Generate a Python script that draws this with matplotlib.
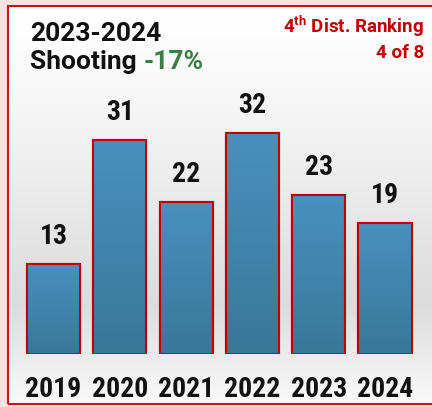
import numpy as np
import matplotlib
matplotlib.use("Agg")
import matplotlib.pyplot as plt
from matplotlib.colors import LinearSegmentedColormap
from matplotlib.patches import Rectangle
import matplotlib.transforms as mtransforms

# data
years = ["2019", "2020", "2021", "2022", "2023", "2024"]
counts = [13, 31, 22, 32, 23, 19]
title_line1 = "2023-2024"
title_line2 = "Shooting"
change_text = "-17%"
rank_line1 = "Dist. Ranking"
rank_line2 = "4 of 8"

W, H = 432, 407
fig = plt.figure(figsize=(W / 100, H / 100), dpi=100)
fig.patch.set_facecolor("#fde2e3")

narrow = ["Roboto Condensed", "Archivo Narrow", "Roboto", "DejaVu Sans"]
roboto = ["Roboto", "DejaVu Sans"]

# inner panel with gradient background
px_l, px_t, px_b = 8, 6, 404
panel = fig.add_axes([px_l / W, (H - px_b) / H, (W - px_l + 5) / W, (px_b - px_t) / H])
bg_cmap = LinearSegmentedColormap.from_list(
    "bg", [(0, "#ffffff"), (0.15, "#fbfbfb"), (0.75, "#dcdcdc"), (1.0, "#fafafa")])
grad = np.linspace(0, 1, 256).reshape(-1, 1)
panel.imshow(grad, cmap=bg_cmap, aspect="auto", extent=[0, 1, 1, 0])
panel.set_xlim(0, 1)
panel.set_ylim(1, 0)
panel.axis("off")
fig.patches.append(Rectangle((px_l / W, (H - px_b) / H), (W - px_l + 5) / W, (px_b - px_t) / H,
                             transform=fig.transFigure, fill=False,
                             edgecolor="#c8161d", linewidth=1.5, zorder=5))

# bar axes
ax = fig.add_axes([20.35 / W, (H - 354) / H, 397.8 / W, 276 / H])
ax.patch.set_alpha(0)
x = np.arange(len(years))
bars = ax.bar(x, counts, width=0.8, color="#3f84ae", edgecolor="#c00000", linewidth=1.5, zorder=3)
bar_cmap = LinearSegmentedColormap.from_list("bar", ["#4891be", "#3a7799"])
for b in bars:
    x0, y0 = b.get_x(), b.get_y()
    im = ax.imshow(grad, cmap=bar_cmap, aspect="auto", origin="upper", zorder=3.5,
                   extent=[x0, x0 + b.get_width(), y0, y0 + b.get_height()])
    im.set_clip_path(b)
    ax.add_patch(Rectangle((x0, y0), b.get_width(), b.get_height(), fill=False,
                           edgecolor="#c00000", linewidth=1.5, zorder=4))

for xi, v in zip(x, counts):
    ax.annotate(str(v), (xi, v), xytext=(0, 14.5), textcoords="offset points",
                ha="center", va="baseline", fontsize=20, fontweight="bold",
                family=narrow, color="#111111")

trans = mtransforms.blended_transform_factory(ax.transData, ax.transAxes)
for xi, yr in zip(x, years):
    ax.text(xi, -0.156, yr, transform=trans, ha="center", va="baseline",
            fontsize=20, fontweight="bold", family=narrow, color="#111111")

ax.set_xlim(-0.5, 5.5)
ax.set_ylim(0, 40)
ax.axis("off")

# titles
fig.text(30 / W, 1 - 41 / H, title_line1, ha="left", va="baseline",
         fontsize=19, fontweight="bold", family=roboto, color="#111111")
t2 = fig.text(30 / W, 1 - 69 / H, title_line2 + " ", ha="left", va="baseline",
              fontsize=19, fontweight="bold", family=roboto, color="#111111")
fig.canvas.draw()
bb = t2.get_window_extent()
fig.text(bb.x1 / W, 1 - 69 / H, change_text, ha="left", va="baseline",
         fontsize=19, fontweight="bold", family=roboto, color="#3b7d46")

fig.text(424 / W, 1 - 33 / H, r"4$^{\mathregular{th}}$ " + rank_line1, ha="right", va="baseline",
         fontsize=13.5, fontweight="bold", family=roboto, color="#c00000")
fig.text(424 / W, 1 - 58 / H, rank_line2, ha="right", va="baseline",
         fontsize=13.5, fontweight="bold", family=roboto, color="#c00000")

fig.savefig("out.png", dpi=100, facecolor=fig.get_facecolor())
